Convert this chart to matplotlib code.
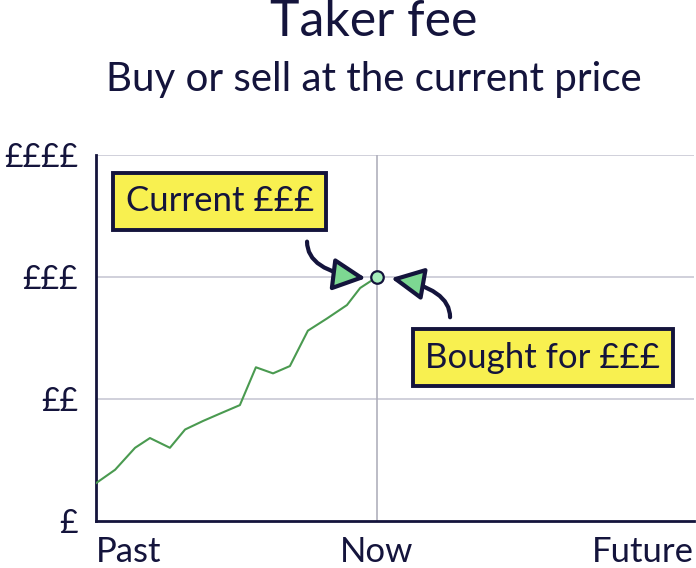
import numpy as np
import matplotlib.pyplot as plt

navy = '#14143c'
green_line = '#4a9a50'
arrow_green = '#7dd892'
dot_green = '#a6eebc'
yellow = '#f8f050'
grid_col = '#c8c8d4'

plt.rcParams['font.family'] = ['Lato', 'DejaVu Sans']

# price history (x: 0 = past, 1 = now)
t = [0.0, 0.068, 0.139, 0.192, 0.263, 0.317, 0.381, 0.441, 0.512, 0.569,
     0.630, 0.690, 0.754, 0.822, 0.893, 0.940, 1.0]
price = [0.31, 0.42, 0.60, 0.68, 0.60, 0.75, 0.82, 0.88, 0.95, 1.26,
         1.21, 1.27, 1.56, 1.66, 1.77, 1.91, 2.0]

yticks = [0, 1, 2, 3]
ylabels = ['£', '££', '£££', '££££']
xticks = [0, 1, 2.128]
xlabels = ['Past', 'Now', 'Future']

fig = plt.figure(figsize=(6.96, 5.68), dpi=100)
ax = fig.add_axes([96/696, 1-521/568, 598/696, 366/568])

ax.plot(t, price, color=green_line, lw=1.5, zorder=3)
ax.plot([t[-1]], [price[-1]], 'o', ms=9, mfc=dot_green, mec=navy, mew=1.6, zorder=5)

ax.set_xlim(0, 2.128)
ax.set_ylim(0, 3)
ax.set_yticks(yticks)
ax.set_yticklabels(ylabels)
ax.set_xticks(xticks)
ax.set_xticklabels(xlabels)
xl = ax.get_xticklabels()
xl[0].set_ha('left')
xl[2].set_ha('right')
ax.tick_params(length=0, colors=navy)
ax.tick_params(axis='x', pad=11, labelsize=25)
ax.tick_params(axis='y', pad=13, labelsize=23)

for y in yticks[1:]:
    ax.axhline(y, color=grid_col, lw=1.2, zorder=1)
ax.axvline(1, color='#b0b0bc', lw=1.2, zorder=1)

for s in ['top', 'right']:
    ax.spines[s].set_visible(False)
for s in ['left', 'bottom']:
    ax.spines[s].set_color(navy)
    ax.spines[s].set_linewidth(2)

box = dict(boxstyle='square,pad=0.36', fc=yellow, ec=navy, lw=2.8)
ax.text(0.441, 2.62, 'Current £££', fontsize=25, color=navy, ha='center', va='center', bbox=box, zorder=6)
ax.text(1.59, 1.34, 'Bought for £££', fontsize=25, color=navy, ha='center', va='center', bbox=box, zorder=6)

ap = dict(arrowstyle='-|>,head_length=2.0,head_width=1.0', fc=arrow_green, ec=navy, lw=3,
          shrinkA=0, shrinkB=0, joinstyle='round')
ax.annotate('', xy=(0.96, 1.99), xytext=(0.751, 2.29),
            arrowprops=dict(ap, connectionstyle='angle3,angleA=90,angleB=-7'), zorder=6)
ax.annotate('', xy=(1.05, 1.99), xytext=(1.26, 1.67),
            arrowprops=dict(ap, connectionstyle='angle3,angleA=90,angleB=-10'), zorder=6)

fig.text(374/696, 1-22/568, 'Taker fee', fontsize=36, color=navy, ha='center', va='center')
fig.text(374/696, 1-80/568, 'Buy or sell at the current price', fontsize=29, color=navy, ha='center', va='center')

fig.savefig('out.png', dpi=100)
